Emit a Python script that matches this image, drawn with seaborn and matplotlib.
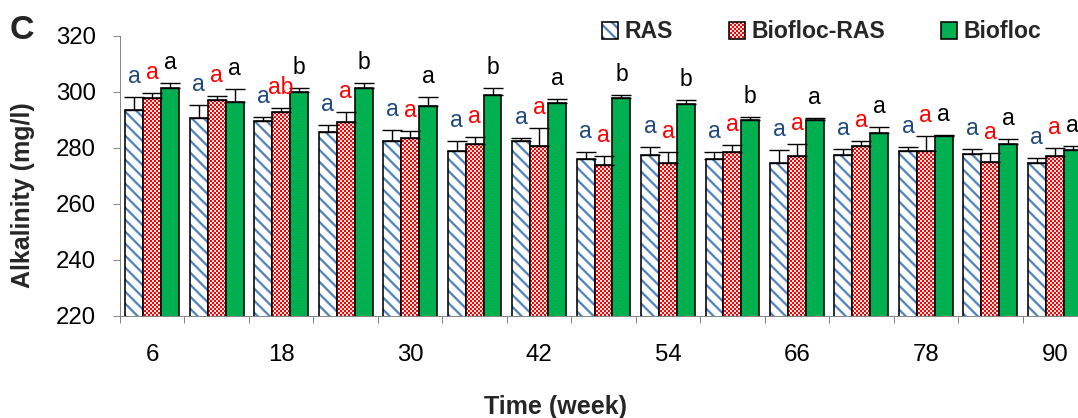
import warnings
import numpy as np
import pandas as pd
import matplotlib
matplotlib.use('Agg')
import matplotlib.pyplot as plt
import matplotlib.hatch as mhatch
import matplotlib.patches as mpatches
import matplotlib.colors as mcolors
from matplotlib.path import Path
import seaborn as sns

warnings.filterwarnings('ignore')

# data (mean alkalinity, mg/l, and upper error)
weeks = [6, 12, 18, 24, 30, 36, 42, 48, 54, 60, 66, 72, 78, 84, 90]
treatments = ['RAS', 'Biofloc-RAS', 'Biofloc']

ras_mean = [293.7, 290.6, 289.6, 285.7, 282.4, 278.8, 282.4, 276.1, 277.5, 276.0, 274.6, 277.5, 278.9, 278.0, 274.6]
ras_sd = [4.4, 4.6, 1.6, 2.5, 4.0, 3.7, 1.1, 2.6, 3.0, 2.7, 4.6, 2.0, 1.5, 1.8, 1.7]
br_mean = [298.0, 297.1, 292.9, 289.4, 283.7, 281.6, 280.7, 273.9, 274.6, 278.6, 277.1, 280.7, 278.9, 275.1, 277.1]
br_sd = [1.8, 1.5, 1.5, 3.5, 2.4, 2.3, 6.3, 3.1, 3.9, 2.4, 4.4, 1.8, 5.4, 3.2, 2.9]
bf_mean = [301.5, 296.4, 299.9, 301.5, 294.9, 299.0, 296.2, 297.9, 295.6, 290.0, 290.0, 285.3, 284.3, 281.5, 279.2]
bf_sd = [1.8, 4.6, 1.6, 1.8, 3.3, 2.4, 1.3, 1.1, 1.4, 1.1, 0.8, 2.3, 0.5, 1.7, 1.5]

ras_letters = ['a'] * 15
br_letters = ['a', 'a', 'ab'] + ['a'] * 12
bf_letters = ['a', 'a', 'b', 'b', 'a', 'b', 'a', 'b', 'b', 'b', 'a', 'a', 'a', 'a', 'a']

face_colors = {'RAS': 'white', 'Biofloc-RAS': 'white', 'Biofloc': '#00B050'}
hatch_patterns = {'RAS': 'd', 'Biofloc-RAS': 'cccccc', 'Biofloc': None}
hatch_colors = {'RAS': '#4F81BD', 'Biofloc-RAS': '#FF0000', 'Biofloc': 'black'}
letter_colors = {'RAS': '#1F497D', 'Biofloc-RAS': '#FF0000', 'Biofloc': 'black'}


class CheckerHatch(mhatch.HatchPatternBase):
    # filled checkerboard, number of 'c' sets the cell density
    def __init__(self, hatch, density):
        self.cells = int(hatch.count('c') * density)
        self.num_vertices = self.cells * self.cells // 2 * 5

    def set_vertices_and_codes(self, vertices, codes):
        s = 1.0 / self.cells
        k = 0
        for i in range(self.cells):
            for j in range(self.cells):
                if (i + j) % 2:
                    continue
                x0, y0 = i * s, j * s
                vertices[k:k + 5] = [(x0, y0), (x0 + s, y0), (x0 + s, y0 + s), (x0, y0 + s), (x0, y0)]
                codes[k:k + 5] = [Path.MOVETO, Path.LINETO, Path.LINETO, Path.LINETO, Path.CLOSEPOLY]
                k += 5


class StripeHatch(mhatch.HatchPatternBase):
    # thick stripes running from top-left to bottom-right
    thickness = 0.042

    def __init__(self, hatch, density):
        self.num_lines = int(hatch.count('d') * density)
        self.num_vertices = (2 * self.num_lines + 2) * 5 if self.num_lines else 0

    def set_vertices_and_codes(self, vertices, codes):
        n = self.num_lines
        t = self.thickness
        x0, x1 = -0.5, 1.5
        k = 0
        for c in np.arange(-1, 2 * n + 1) / n:
            vertices[k:k + 5] = [(x0, c - x0), (x1, c - x1), (x1, c - x1 + t), (x0, c - x0 + t), (x0, c - x0)]
            codes[k:k + 5] = [Path.MOVETO, Path.LINETO, Path.LINETO, Path.LINETO, Path.CLOSEPOLY]
            k += 5


mhatch._hatch_types.append(CheckerHatch)
mhatch._hatch_types.append(StripeHatch)


def paint_hatch(patch, color):
    if hasattr(patch, 'set_hatchcolor'):
        patch.set_hatchcolor(color)
    else:
        patch._hatch_color = mcolors.to_rgba(color)


df = pd.DataFrame({
    'week': [str(w) for w in weeks] * 3,
    'treatment': np.repeat(treatments, len(weeks)),
    'alkalinity': ras_mean + br_mean + bf_mean,
})

sns.set_theme(style='white')
plt.rcParams['font.family'] = ['Liberation Sans', 'DejaVu Sans']
plt.rcParams['hatch.linewidth'] = 0.1

fig = plt.figure(figsize=(1078 / 72, 418 / 72), dpi=72)
ax = fig.add_axes([120 / 1078, 102 / 418, 967 / 1078, 280 / 418])

sns.barplot(data=df, x='week', y='alkalinity', hue='treatment', order=[str(w) for w in weeks],
            hue_order=treatments, palette=face_colors, saturation=1, width=0.835, errorbar=None,
            edgecolor='black', linewidth=1.6, legend=False, ax=ax)

sds = {'RAS': ras_sd, 'Biofloc-RAS': br_sd, 'Biofloc': bf_sd}
letters = {'RAS': ras_letters, 'Biofloc-RAS': br_letters, 'Biofloc': bf_letters}

for name, bars in zip(treatments, ax.containers):
    xs = [b.get_x() + b.get_width() / 2 for b in bars]
    ys = [b.get_height() for b in bars]
    if hatch_patterns[name]:
        for b in bars:
            b.set_hatch(hatch_patterns[name])
            paint_hatch(b, hatch_colors[name])
    sd = sds[name]
    ax.errorbar(xs, ys, yerr=[np.zeros(len(sd)), sd], fmt='none', ecolor='black',
                elinewidth=1.4, capsize=10, capthick=1.4, zorder=3)
    for x, y, s, t in zip(xs, ys, sd, letters[name]):
        ax.text(x, y + s + 5.0, t, ha='center', va='baseline', color=letter_colors[name],
                fontsize=23, zorder=4)

ax.set_ylim(220, 320)
ax.set_yticks(range(220, 321, 20))
ax.set_xticks(range(0, 15, 2))
ax.set_xticklabels(weeks[::2])
ax.set_xticks(np.arange(-0.5, 15, 1), minor=True)
ax.set_xlim(-0.5, 14.5)

sns.despine(ax=ax)
for side in ['left', 'bottom']:
    ax.spines[side].set_color('#868686')
    ax.spines[side].set_linewidth(1)

ax.tick_params(axis='y', left=True, length=7, width=1, color='#868686', pad=17,
               labelsize=24, labelcolor='black', direction='out')
ax.tick_params(axis='x', which='major', bottom=True, length=0, pad=28, labelsize=24, labelcolor='black')
ax.tick_params(axis='x', which='minor', bottom=True, length=7, width=1, color='#868686', direction='out')

ax.set_xlabel('Time (week)', fontsize=25, fontweight='bold')
ax.xaxis.set_label_coords(0.45, -0.282)
ax.set_ylabel('Alkalinity (mg/l)', fontsize=25, fontweight='bold')
ax.yaxis.set_label_coords(-0.088, 0.432)

fig.text(22 / 1078, 1 - 39 / 418, 'C', fontsize=34, fontweight='bold', ha='center', va='baseline')

handles = []
for name in treatments:
    h = mpatches.Patch(facecolor=face_colors[name], edgecolor='black', linewidth=1.6,
                       hatch=hatch_patterns[name], label=name)
    paint_hatch(h, hatch_colors[name])
    handles.append(h)
fig.legend(handles=handles, loc='center left', bbox_to_anchor=(602 / 1078, 1 - 32 / 418), ncol=3,
           frameon=False, prop={'weight': 'bold', 'size': 23}, handlelength=0.7, handleheight=0.7,
           handletextpad=0.3, columnspacing=2.4, borderpad=0, borderaxespad=0)

fig.savefig('out.png', dpi=72)
